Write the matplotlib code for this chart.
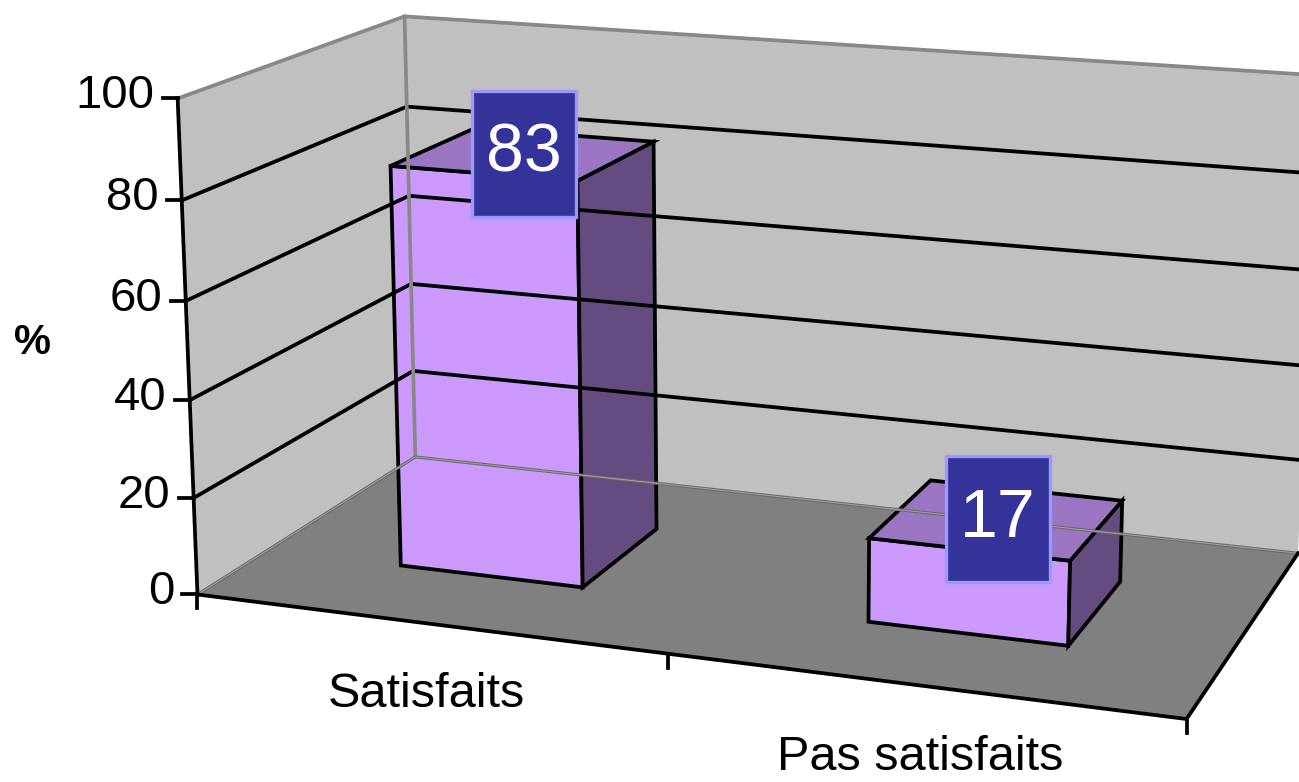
import numpy as np
import matplotlib.pyplot as plt
from matplotlib.patches import Polygon, Rectangle

plt.rcParams['font.family'] = ['Liberation Sans', 'DejaVu Sans']

# data
categories = ["Satisfaits", "Pas satisfaits"]
values = [83, 17]
y_ticks = [0, 20, 40, 60, 80, 100]
y_max = 100
axis_label = "%"

# colours (Excel 3D column look)
WALL = "#c0c0c0"
WALL_EDGE = "#888888"
FLOOR = "#808080"
BAR_FRONT = "#cc99ff"
BAR_TOP = "#9a75c2"
BAR_SIDE = "#654c80"
BOX_FACE = "#333399"
BOX_EDGE = "#9999ff"

W, H, DPI = 1299, 782, 100
LW = 2.7  # about 3.5 px

bar_width = 0.4   # fraction of a category slot
bar_depth = 0.4   # fraction of the floor depth

# camera calibration: (slot, depth, fraction of y_max) -> pixel in the picture
calib_world = [
    (0, 0, 0), (0, 0, 0.2), (0, 0, 0.4), (0, 0, 0.6), (0, 0, 0.8), (0, 0, 1),
    (2, 0, 0), (0, 1, 0), (0, 1, 0.2), (0, 1, 0.8), (0, 1, 1), (2, 1, 0),
]
calib_px = [
    (199, 595), (193, 499), (189, 399), (186, 300), (182, 200), (177, 101),
    (1188, 720), (416, 455), (413, 374), (407, 103), (405, 17), (1298, 553),
]
# bar corners seen in the picture: (corner in x, corner in depth, at top?) -> pixel
bar_corner_px = [
    [((0, 0, 0), (401, 565)), ((1, 0, 0), (582, 587)), ((0, 0, 1), (389, 165)),
     ((1, 0, 1), (578, 182)), ((1, 1, 1), (655, 143)), ((1, 1, 0), (655, 530))],
    [((0, 0, 0), (869, 622)), ((1, 0, 0), (1070, 644)), ((0, 0, 1), (869, 537)),
     ((1, 0, 1), (1068, 558)), ((1, 1, 1), (1122, 500)), ((1, 1, 0), (1119, 585)),
     ((0, 1, 1), (931, 481))],
]


def bar_box(i):
    x0 = i + 0.5 - bar_width / 2
    y0 = 0.5 - bar_depth / 2
    return x0, x0 + bar_width, y0, y0 + bar_depth, values[i] / y_max


for i, corners in enumerate(bar_corner_px):
    x0, x1, y0, y1, z = bar_box(i)
    for (cx, cy, cz), p in corners:
        calib_world.append((x1 if cx else x0, y1 if cy else y0, z if cz else 0))
        calib_px.append(p)


def fit_camera(world, px):
    world = np.asarray(world, float)
    px = np.asarray(px, float)
    mu = px.mean(axis=0)
    s = px.std()
    pn = (px - mu) / s
    rows = []
    for (X, Y, Z), (u, v) in zip(world, pn):
        rows.append([X, Y, Z, 1, 0, 0, 0, 0, -u * X, -u * Y, -u * Z, -u])
        rows.append([0, 0, 0, 0, X, Y, Z, 1, -v * X, -v * Y, -v * Z, -v])
    P = np.linalg.svd(np.array(rows))[2][-1].reshape(3, 4)
    T = np.array([[s, 0, mu[0]], [0, s, mu[1]], [0, 0, 1]])
    return T @ P


CAM = fit_camera(calib_world, calib_px)


def proj(X, Y, Z):
    u, v, w = CAM @ np.array([X, Y, Z, 1.0])
    return u / w, v / w


def pts(*corners):
    return [proj(*c) for c in corners]


fig = plt.figure(figsize=(W / DPI, H / DPI), dpi=DPI)
ax = fig.add_axes([0, 0, 1, 1])
ax.set_xlim(0, W)
ax.set_ylim(H, 0)
ax.axis('off')

n = len(categories)

# walls and floor
ax.add_patch(Polygon(pts((0, 1, 0), (n, 1, 0), (n, 1, 1), (0, 1, 1)), closed=True,
                     fc=WALL, ec='none'))
ax.add_patch(Polygon(pts((0, 0, 0), (0, 1, 0), (0, 1, 1), (0, 0, 1)), closed=True,
                     fc=WALL, ec='none'))
ax.add_patch(Polygon(pts((0, 0, 0), (n, 0, 0), (n, 1, 0), (0, 1, 0)), closed=True,
                     fc=FLOOR, ec='none'))

# gridlines
for t in y_ticks[1:-1]:
    z = t / y_max
    line = np.array(pts((0, 0, z), (0, 1, z), (n, 1, z)))
    ax.plot(line[:, 0], line[:, 1], color='black', lw=LW, solid_capstyle='butt')

# wall outlines
top = np.array(pts((0, 0, 1), (0, 1, 1), (n, 1, 1)))
ax.plot(top[:, 0], top[:, 1], color=WALL_EDGE, lw=LW)
corner = np.array(pts((0, 1, 0), (0, 1, 1)))
ax.plot(corner[:, 0], corner[:, 1], color=WALL_EDGE, lw=LW)
base = np.array(pts((0, 0, 0), (0, 1, 0), (n, 1, 0)))
ax.plot(base[:, 0], base[:, 1], color='#6a6a6a', lw=2.2)
ax.plot(base[:, 0], base[:, 1], color='#a4a4a4', lw=0.7)

# floor front and right edges
edge = np.array(pts((0, 0, 0), (n, 0, 0), (n, 1, 0)))
ax.plot(edge[:, 0], edge[:, 1], color='black', lw=LW, solid_joinstyle='miter')

# value axis
axis = np.array(pts((0, 0, 0), (0, 0, 1)))
ax.plot(axis[:, 0], axis[:, 1], color='black', lw=LW)
for t in y_ticks:
    x, y = proj(0, 0, t / y_max)
    ax.plot([x - 15, x], [y, y], color='black', lw=LW)
    ax.text(x - 23, y - 2, str(t), ha='right', va='center', fontsize=34)

ax.text(33, 343, axis_label, ha='center', va='center', fontsize=30, fontweight='bold')

# category ticks and labels
for k in range(n + 1):
    x, y = proj(k, 0, 0)
    ax.plot([x, x], [y, y + 14], color='black', lw=LW)
for i, cat in enumerate(categories):
    x, y = proj(i + 0.5, 0, 0)
    ax.text(x - 1, y + 49, cat, ha='center', va='top', fontsize=35)

# bars
for i, v in enumerate(values):
    x0, x1, y0, y1, z = bar_box(i)
    front = pts((x0, y0, 0), (x1, y0, 0), (x1, y0, z), (x0, y0, z))
    side = pts((x1, y0, 0), (x1, y1, 0), (x1, y1, z), (x1, y0, z))
    lid = pts((x0, y0, z), (x1, y0, z), (x1, y1, z), (x0, y1, z))
    for face, col in ((front, BAR_FRONT), (side, BAR_SIDE), (lid, BAR_TOP)):
        ax.add_patch(Polygon(face, closed=True, fc=col, ec='black', lw=LW,
                             joinstyle='miter'))

    cx, cy = proj(i + 0.5, 0.5, z)
    ax.add_patch(Rectangle((cx - 52, cy - 63), 104, 126, fc=BOX_FACE, ec=BOX_EDGE,
                           lw=2.4, zorder=5))
    ax.text(cx, cy, str(v), ha='center', va='center', color='white',
            fontsize=49, zorder=6)

fig.savefig('out.png', dpi=DPI)
